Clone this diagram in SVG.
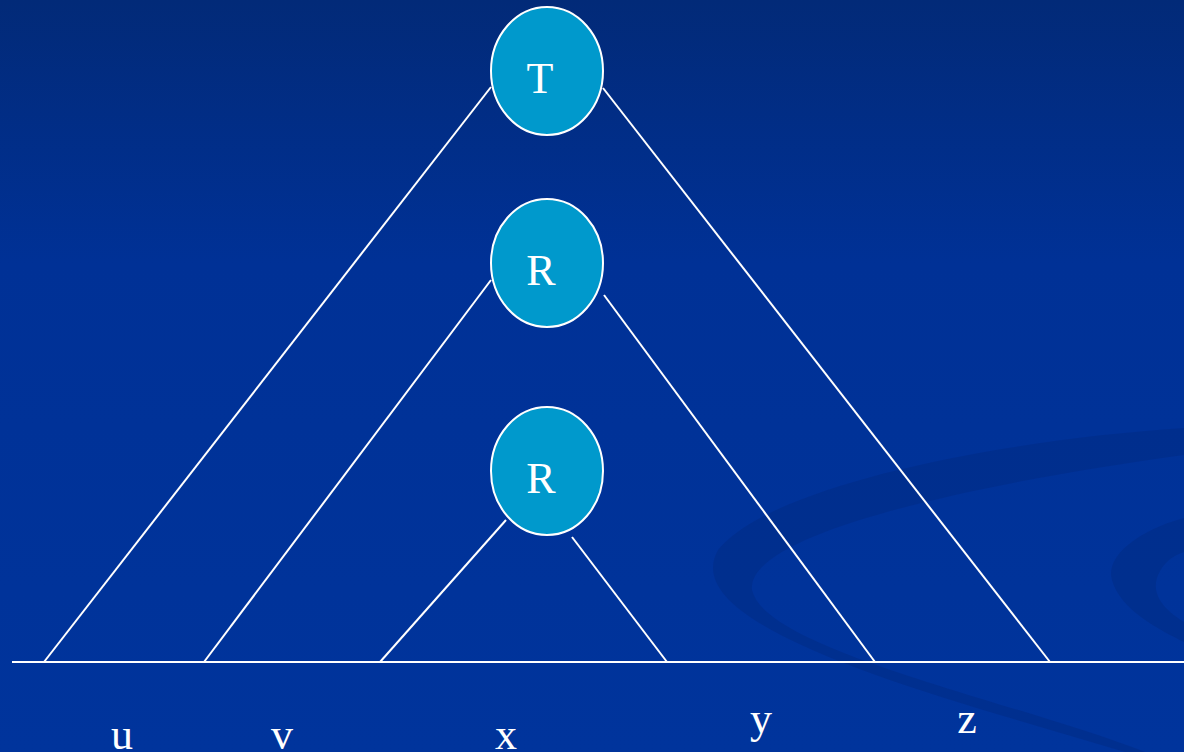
<svg xmlns="http://www.w3.org/2000/svg" width="1184" height="752" viewBox="0 0 1184 752">
<style>
.node ellipse{fill:#0099cc;stroke:#ffffff;stroke-width:2}
.node text,.label{font-family:"Liberation Serif","Times New Roman",serif;font-size:44px;fill:#ffffff;text-anchor:middle}
#connectors line{stroke:#ffffff;stroke-width:2}
.swirl{fill:#002b85;opacity:0.55}
</style>
<defs>
<linearGradient id="bg" x1="0" y1="0" x2="0" y2="1">
<stop offset="0" stop-color="#022a78"/>
<stop offset="0.35" stop-color="#003196"/>
<stop offset="1" stop-color="#00349c"/>
</linearGradient>
</defs>
<rect width="1184" height="752" fill="url(#bg)"/>
<g id="background-swirl">
<path class="swirl" d="M 1184 428 C 1000 440, 770 485, 718 550 C 690 600, 780 650, 1000 715 L 1125 752 L 1145 752 C 1010 700, 765 650, 752 590 C 745 530, 1000 480, 1184 455 Z"/>
<path class="swirl" d="M 1184 518 C 1140 530, 1105 555, 1112 580 C 1120 610, 1160 630, 1184 642 L 1184 622 C 1165 610, 1150 595, 1158 575 C 1165 560, 1175 555, 1184 552 Z"/>
</g>
<g id="connectors">
<line x1="12" y1="662" x2="1184" y2="662"/>
<line x1="491" y1="87" x2="44" y2="662"/>
<line x1="603" y1="88" x2="1050" y2="662"/>
<line x1="491" y1="280" x2="204" y2="662"/>
<line x1="604" y1="295" x2="875" y2="662"/>
<line x1="506" y1="520" x2="380" y2="662"/>
<line x1="572" y1="537" x2="667" y2="662"/>
</g>
<g id="node-T" class="node">
<ellipse cx="547" cy="71" rx="56" ry="64"/>
<text x="540" y="93">T</text>
</g>
<g id="node-R1" class="node">
<ellipse cx="547" cy="263" rx="56" ry="64"/>
<text x="541" y="285">R</text>
</g>
<g id="node-R2" class="node">
<ellipse cx="547" cy="471" rx="56" ry="64"/>
<text x="541" y="493">R</text>
</g>
<g id="labels">
<text class="label" x="122" y="749">u</text>
<text class="label" x="282" y="749">v</text>
<text class="label" x="506" y="749">x</text>
<text class="label" x="761" y="733">y</text>
<text class="label" x="967" y="733">z</text>
</g>
</svg>
